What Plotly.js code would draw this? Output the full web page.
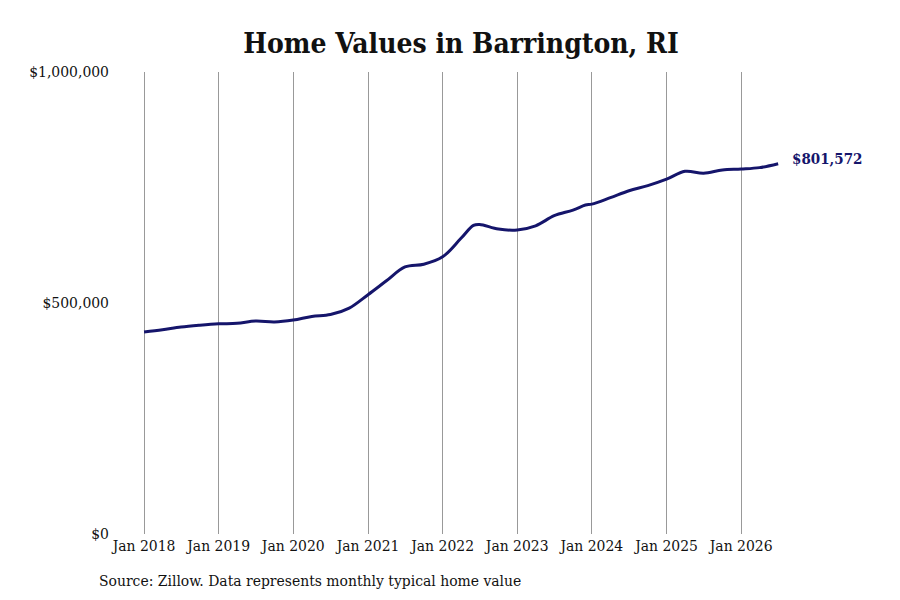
<!DOCTYPE html>
<html>
<head>
<meta charset="utf-8">
<script src="https://cdn.plot.ly/plotly-3.0.1.min.js"></script>
<style>
  html, body { margin: 0; padding: 0; background: #fff; }
  #chart { width: 900px; height: 600px; }
</style>
</head>
<body>
<div id="chart"></div>
<script>
// quarterly-ish readings of the typical home value
var dates = [
  "2018-01-01", "2018-04-01", "2018-07-01", "2018-10-01",
  "2019-01-01", "2019-04-01", "2019-07-01", "2019-10-01",
  "2020-01-01", "2020-04-01", "2020-07-01", "2020-10-01",
  "2021-01-01", "2021-04-01", "2021-07-01", "2021-10-01",
  "2022-01-01", "2022-04-01", "2022-06-01", "2022-07-01", "2022-10-01",
  "2023-01-01", "2023-04-01", "2023-07-01", "2023-10-01",
  "2023-12-01", "2024-01-01", "2024-04-01", "2024-07-01", "2024-10-01",
  "2025-01-01", "2025-04-01", "2025-07-01", "2025-10-01",
  "2026-01-01", "2026-04-01", "2026-07-01"
];
var values = [
  437000, 442000, 448000, 452000,
  455000, 456000, 461000, 459000,
  463000, 471000, 475000, 489000,
  518000, 548000, 578000, 584000,
  600000, 640000, 668000, 670000, 660000,
  658000, 667000, 689000, 701000,
  712000, 714000, 728000, 743000, 754000,
  768000, 785000, 781000, 788000,
  790000, 793000, 801572
];
var yTicks = [0, 500000, 1000000];
var yTickText = ["$0", "$500,000", "$1,000,000"];
var lastLabel = "$801,572";

var font = "DejaVu Serif Condensed, DejaVu Serif, serif";
var navy = "#15156b";

var trace = {
  x: dates,
  y: values,
  type: "scatter",
  mode: "lines",
  line: { color: navy, width: 3, shape: "spline", smoothing: 1 },
  hoverinfo: "skip"
};

var mL = 142, mR = 120, mT = 72, mB = 66;

var layout = {
  width: 900,
  height: 600,
  margin: { l: mL, r: mR, t: mT, b: mB },
  paper_bgcolor: "#fff",
  plot_bgcolor: "#fff",
  showlegend: false,
  font: { family: font, size: 15.5, color: "#111" },
  title: {
    text: "<b>Home Values in Barrington, RI</b>",
    font: { family: font, size: 28, color: "#111" },
    x: 0.5, xref: "paper",
    y: 1 - 43 / 600, yref: "container", yanchor: "middle"
  },
  xaxis: {
    type: "date",
    range: ["2017-12-22", "2026-07-10"],
    tick0: "2018-01-01",
    dtick: "M12",
    tickformat: "%b %Y",
    showgrid: true,
    gridcolor: "#999",
    gridwidth: 1,
    zeroline: false,
    showline: false,
    ticks: "",
    tickfont: { family: font, size: 15.5, color: "#111" }
  },
  yaxis: {
    range: [0, 1000000],
    tickvals: yTicks,
    ticktext: yTickText,
    showgrid: false,
    zeroline: false,
    showline: false,
    ticks: "",
    ticklabelstandoff: 32,
    tickfont: { family: font, size: 15.5, color: "#111" }
  },
  annotations: [
    {
      x: dates[dates.length - 1],
      y: values[values.length - 1],
      xref: "x", yref: "y",
      text: "<b>" + lastLabel + "</b>",
      showarrow: false,
      xanchor: "left",
      yanchor: "middle",
      xshift: 12,
      yshift: 5,
      font: { family: font, size: 15, color: navy }
    },
    {
      xref: "paper", yref: "paper",
      text: "Source: Zillow. Data represents monthly typical home value",
      showarrow: false,
      xanchor: "left",
      yanchor: "middle",
      font: { family: font, size: 15.5, color: "#111" }
    }
  ]
};

// source line is placed in pixel terms, convert to paper coords
var plotW = 900 - mL - mR, plotH = 600 - mT - mB;
layout.annotations[1].x = (97 - mL) / plotW;
layout.annotations[1].y = (600 - mB - 581) / plotH;

Plotly.newPlot("chart", [trace], layout, { displayModeBar: false, staticPlot: true });
</script>
</body>
</html>
